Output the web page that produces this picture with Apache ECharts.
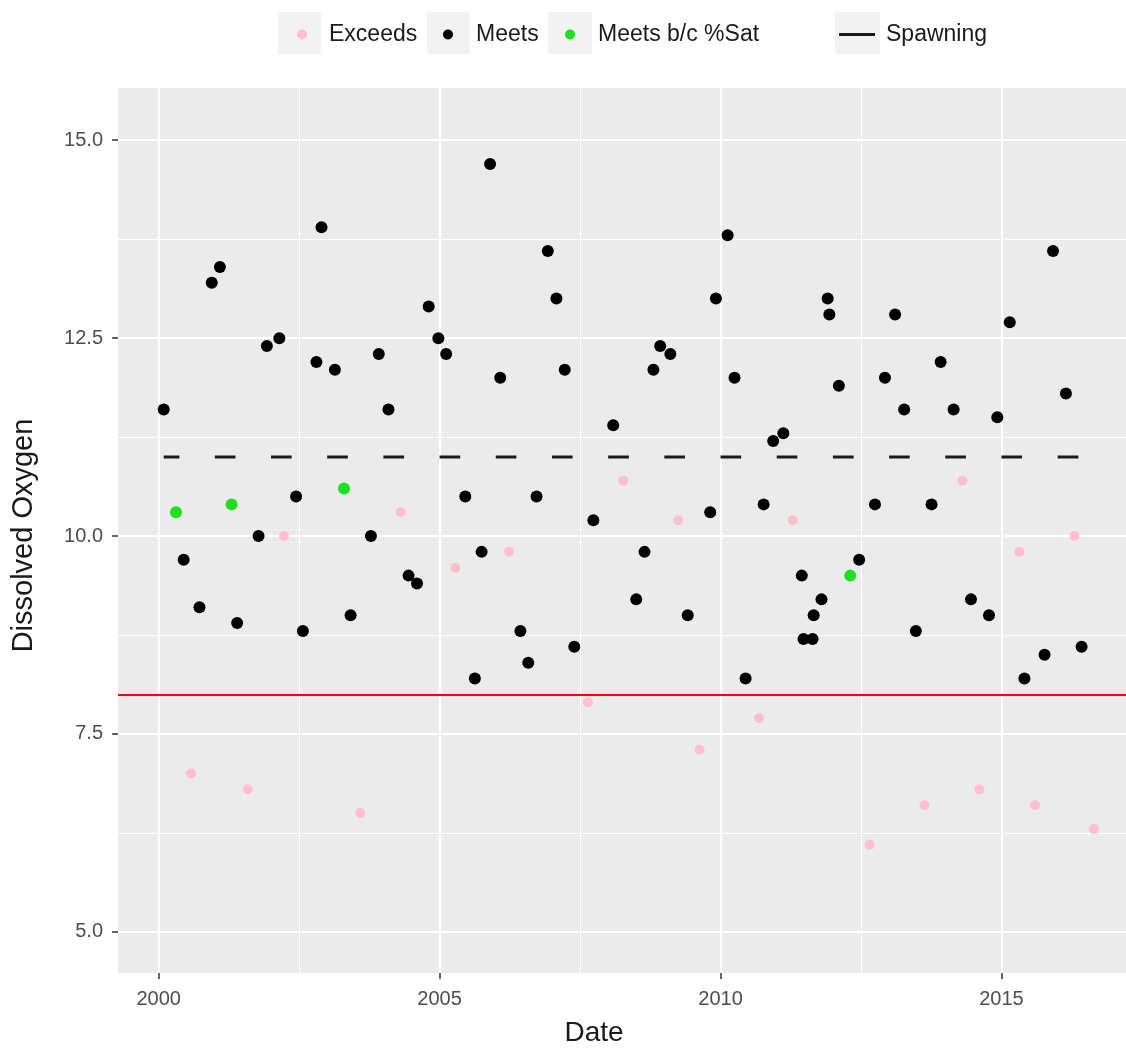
<!DOCTYPE html>
<html>
<head>
<meta charset="utf-8">
<title>Dissolved Oxygen</title>
<script src="https://cdn.jsdelivr.net/npm/echarts@6/dist/echarts.min.js"></script>
<style>
  html, body { margin: 0; padding: 0; background: #ffffff; }
  #chart { width: 1126px; height: 1049px; }
</style>
</head>
<body>
<div id="chart"></div>
<script>
// Dissolved oxygen samples, grouped by how each sample compares with the criterion
const exceedsDates = ['2000-07-31','2001-08-04','2002-03-26','2003-08-04','2004-04-23','2005-04-13','2006-03-29',
  '2007-08-22','2008-04-09','2009-04-02','2009-08-18','2010-09-09','2011-04-16','2012-08-28','2013-08-19',
  '2014-04-23','2014-08-11','2015-04-27','2015-08-07','2016-04-19','2016-08-25'];
const exceedsValues = [7.0, 6.8, 10.0, 6.5, 10.3, 9.6, 9.8,
  7.9, 10.7, 10.2, 7.3, 7.7, 10.2, 6.1, 6.6,
  10.7, 6.8, 9.8, 6.6, 10.0, 6.3];

const meetsDates = ['2000-02-03','2000-06-12','2000-09-23','2000-12-12','2001-02-03','2001-05-26','2001-10-12',
  '2001-12-05','2002-02-24','2002-06-13','2002-07-27','2002-10-23','2002-11-25','2003-02-20','2003-06-02',
  '2003-10-12','2003-12-02','2004-02-03','2004-06-13','2004-08-07','2004-10-22','2004-12-24','2005-02-13',
  '2005-06-17','2005-08-18','2005-10-01','2005-11-25','2006-01-30','2006-06-10','2006-07-31','2006-09-23',
  '2006-12-05','2007-01-30','2007-03-25','2007-05-26','2007-09-27','2008-02-03','2008-07-02','2008-08-25',
  '2008-10-22','2008-12-05','2009-02-09','2009-06-02','2009-10-26','2009-12-02','2010-02-16','2010-04-02',
  '2010-06-13','2010-10-08','2010-12-09','2011-02-13','2011-06-13','2011-06-24','2011-08-22','2011-08-29',
  '2011-10-19','2011-11-28','2011-12-09','2012-02-09','2012-06-20','2012-10-01','2012-12-05','2013-02-09',
  '2013-04-09','2013-06-24','2013-10-04','2013-12-02','2014-02-24','2014-06-17','2014-10-12','2014-12-05',
  '2015-02-24','2015-05-30','2015-10-08','2015-12-02','2016-02-24','2016-06-05'];
const meetsValues = [11.6, 9.7, 9.1, 13.2, 13.4, 8.9, 10.0,
  12.4, 12.5, 10.5, 8.8, 12.2, 13.9, 12.1, 9.0,
  10.0, 12.3, 11.6, 9.5, 9.4, 12.9, 12.5, 12.3,
  10.5, 8.2, 9.8, 14.7, 12.0, 8.8, 8.4, 10.5,
  13.6, 13.0, 12.1, 8.6, 10.2, 11.4, 9.2, 9.8,
  12.1, 12.4, 12.3, 9.0, 10.3, 13.0, 13.8, 12.0,
  8.2, 10.4, 11.2, 11.3, 9.5, 8.7, 8.7, 9.0,
  9.2, 13.0, 12.8, 11.9, 9.7, 10.4, 12.0, 12.8,
  11.6, 8.8, 10.4, 12.2, 11.6, 9.2, 9.0, 11.5,
  12.7, 8.2, 8.5, 13.6, 11.8, 8.6];

const satDates = ['2000-04-23','2001-04-20','2003-04-20','2012-04-23'];
const satValues = [10.3, 10.4, 10.6, 9.5];

// Spawning-season criterion (one segment per season) and the year-round criterion
const spawningLevel = 11;
const spawnStart = ['2000-02-03','2001-01-01','2002-01-01','2003-01-01','2004-01-01','2005-01-01','2006-01-01',
  '2007-01-01','2008-01-01','2009-01-01','2010-01-01','2011-01-01','2012-01-01','2013-01-01','2014-01-01',
  '2015-01-01','2016-01-01'];
const spawnEnd = ['2000-05-15','2001-05-15','2002-05-15','2003-05-15','2004-05-15','2005-05-15','2006-05-15',
  '2007-05-15','2008-05-15','2009-05-15','2010-05-15','2011-05-15','2012-05-15','2013-05-15','2014-05-15',
  '2015-05-15','2016-05-15'];
const criterion = 8;

// Axis ticks
const xMajorTicks = ['2000-01-01','2005-01-01','2010-01-01','2015-01-01'];
const xMinorTicks = ['2002-07-02','2007-07-02','2012-07-02'];
const yMajorTicks = [5, 7.5, 10, 12.5, 15];
const yMinorTicks = [6.25, 8.75, 11.25, 13.75];
const xRange = ['1999-04-12','2017-03-21'];
const yRange = [4.48, 15.66];

// Dates are placed on a continuous decimal-year scale
function toYear(s) {
  const p = s.split('-').map(Number);
  const start = Date.UTC(p[0], 0, 1);
  const next = Date.UTC(p[0] + 1, 0, 1);
  return p[0] + (Date.UTC(p[0], p[1] - 1, p[2]) - start) / (next - start);
}
function pairs(dates, values) {
  return dates.map((d, i) => [toYear(d), values[i]]);
}
const spawnData = [];
spawnStart.forEach((s, i) => {
  spawnData.push([toYear(s), spawningLevel]);
  spawnData.push([toYear(spawnEnd[i]), spawningLevel]);
  spawnData.push([toYear(spawnEnd[i]) + 0.01, '-']);
});

const FONT = '"Liberation Sans", Arial, Helvetica, sans-serif';
const chart = echarts.init(document.getElementById('chart'), null, { renderer: 'canvas' });

const legendText = pad => ({
  fontFamily: FONT, fontSize: 23, color: '#1a1a1a', padding: [0, 0, 0, pad]
});
const legendBase = {
  top: 23,
  orient: 'horizontal',
  itemWidth: 10,
  itemHeight: 10,
  icon: 'circle',
  selectedMode: false,
  padding: 0
};

const keyBox = (x, w) => ({
  type: 'rect', left: x, top: 12, z: 0,
  shape: { width: w, height: 42 },
  style: { fill: '#f2f2f2' }
});

chart.setOption({
  animation: false,
  backgroundColor: '#ffffff',
  textStyle: { fontFamily: FONT },
  graphic: [keyBox(278, 43), keyBox(427, 43), keyBox(548, 44), keyBox(835, 45)],
  legend: [
    Object.assign({}, legendBase, { left: 297, textStyle: legendText(17), data: ['Exceeds'] }),
    Object.assign({}, legendBase, { left: 443, textStyle: legendText(18), data: ['Meets'] }),
    Object.assign({}, legendBase, { left: 565, textStyle: legendText(18), data: ['Meets b/c %Sat'] }),
    Object.assign({}, legendBase, { left: 839, itemWidth: 36, itemHeight: 3,
      icon: 'path://M0,0H36V3H0Z', textStyle: legendText(6), data: ['Spawning'] })
  ],
  grid: {
    left: 118, top: 88, right: 0, bottom: 76,
    show: true, backgroundColor: '#ebebeb', borderWidth: 0,
    containLabel: false, outerBoundsMode: 'none'
  },
  xAxis: [
    {
      type: 'value', min: toYear(xRange[0]), max: toYear(xRange[1]),
      name: 'Date', nameLocation: 'middle', nameGap: 46,
      nameTextStyle: { fontFamily: FONT, fontSize: 28, color: '#1a1a1a', padding: [0, 56, 0, 0] },
      axisLine: { show: false },
      axisTick: { show: true, length: 6, lineStyle: { color: '#333333', width: 1.5 },
        customValues: xMajorTicks.map(toYear) },
      axisLabel: { show: true, margin: 16, fontFamily: FONT, fontSize: 20, color: '#4d4d4d',
        customValues: xMajorTicks.map(toYear),
        formatter: v => String(Math.round(v)) },
      splitLine: { show: true, lineStyle: { color: '#ffffff', width: 2 } }
    },
    {
      type: 'value', min: toYear(xRange[0]), max: toYear(xRange[1]), position: 'bottom',
      axisLine: { show: false },
      axisTick: { show: false, customValues: xMinorTicks.map(toYear) },
      axisLabel: { show: false, customValues: xMinorTicks.map(toYear) },
      splitLine: { show: true, lineStyle: { color: '#ffffff', width: 1 } }
    }
  ],
  yAxis: [
    {
      type: 'value', min: yRange[0], max: yRange[1],
      name: 'Dissolved Oxygen', nameLocation: 'middle', nameGap: 80, nameRotate: 90,
      nameTextStyle: { fontFamily: FONT, fontSize: 29, color: '#1a1a1a', padding: [0, 10, 0, 0] },
      axisLine: { show: false },
      axisTick: { show: true, length: 6, lineStyle: { color: '#333333', width: 1.5 },
        customValues: yMajorTicks },
      axisLabel: { show: true, margin: 15, fontFamily: FONT, fontSize: 20, color: '#4d4d4d',
        customValues: yMajorTicks, formatter: v => Number(v).toFixed(1) },
      splitLine: { show: true, lineStyle: { color: '#ffffff', width: 2 } }
    },
    {
      type: 'value', min: yRange[0], max: yRange[1], position: 'left',
      axisLine: { show: false },
      axisTick: { show: false, customValues: yMinorTicks },
      axisLabel: { show: false, customValues: yMinorTicks },
      splitLine: { show: true, lineStyle: { color: '#ffffff', width: 1 } }
    }
  ],
  series: [
    {
      name: 'Spawning', type: 'line', xAxisIndex: 0, yAxisIndex: 0,
      data: spawnData, connectNulls: false, showSymbol: false, symbol: 'none',
      lineStyle: { color: '#1a1a1a', width: 3, cap: 'butt' },
      itemStyle: { color: '#1a1a1a' },
      silent: true, z: 2,
      markLine: {
        silent: true, symbol: ['none', 'none'], label: { show: false },
        lineStyle: { color: '#ff0000', width: 2, type: 'solid' },
        data: [{ yAxis: criterion }]
      }
    },
    {
      name: 'Exceeds', type: 'scatter', xAxisIndex: 0, yAxisIndex: 0,
      data: pairs(exceedsDates, exceedsValues), symbol: 'circle', symbolSize: 10,
      itemStyle: { color: '#ffc0cb', opacity: 1 }, z: 3
    },
    {
      name: 'Meets', type: 'scatter', xAxisIndex: 0, yAxisIndex: 0,
      data: pairs(meetsDates, meetsValues), symbol: 'circle', symbolSize: 12,
      itemStyle: { color: '#000000', opacity: 1 }, z: 4
    },
    {
      name: 'Meets b/c %Sat', type: 'scatter', xAxisIndex: 0, yAxisIndex: 0,
      data: pairs(satDates, satValues), symbol: 'circle', symbolSize: 12,
      itemStyle: { color: '#1fe01f', opacity: 1 }, z: 5
    }
  ]
});
</script>
</body>
</html>
